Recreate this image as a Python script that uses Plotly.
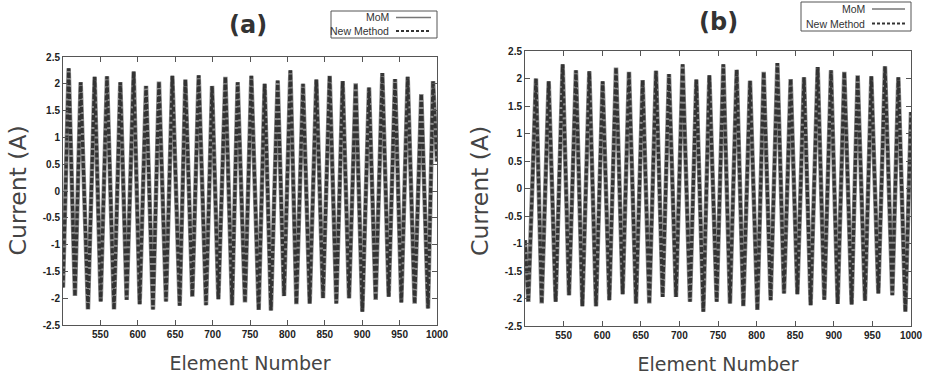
import plotly.graph_objects as go

# ---------------- data ----------------
# Panel (a): element numbers of successive extrema and current values (MoM)
a_element = [500, 507.6, 516.0, 523.6, 533.4, 542.3, 550.4, 558.8, 568.2, 576.6, 585.1,
             594.5, 602.5, 611.0, 620.3, 628.3, 637.7, 646.2, 656.0, 663.6, 672.9,
             681.4, 691.2, 699.3, 707.7, 717.1, 726.0, 733.5, 743.3, 751.8, 761.6,
             769.6, 778.0, 787.0, 795.5, 804.0, 812.0, 820.9, 829.8, 838.7, 847.6,
             856.5, 865.4, 873.9, 882.4, 891.3, 900.2, 909.1, 918.0, 926.9, 935.4,
             943.9, 952.3, 960.8, 970.1, 979.0, 988.0, 994.7, 1000]
a_mom = [-1.80, 2.29, -1.96, 2.03, -2.21, 2.13, -2.06, 2.14, -2.21, 2.03, -2.03,
         2.23, -2.11, 1.96, -2.21, 2.04, -2.06, 2.15, -2.14, 2.08, -1.97,
         2.16, -2.13, 1.96, -2.02, 2.13, -2.13, 2.03, -2.08, 2.15, -2.22,
         2.00, -2.23, 2.06, -1.96, 2.25, -2.11, 2.00, -2.10, 2.08, -2.00,
         2.15, -2.10, 2.05, -2.00, 2.01, -2.25, 1.93, -2.03, 2.20, -1.97,
         2.09, -2.08, 2.13, -2.10, 1.81, -2.19, 2.05, 0.55]
a_new = list(a_mom)

# Panel (b)
b_element = [500, 504.3, 514.2, 521.6, 530.7, 539.7, 548.8, 557.0, 566.0, 574.3, 583.3,
             592.0, 600.6, 609.2, 617.9, 626.5, 634.7, 643.8, 652.4, 661.0, 669.7,
             678.3, 686.5, 695.6, 704.2, 713.7, 721.9, 731.0, 738.8, 748.3, 756.9,
             765.5, 774.2, 782.8, 791.5, 801.0, 809.2, 818.2, 826.9, 835.5, 844.1,
             852.8, 861.4, 870.0, 879.1, 887.7, 896.4, 905.0, 913.6, 923.1, 930.9,
             940.4, 948.6, 957.7, 966.3, 975.8, 983.6, 992.7, 1000]
b_mom = [-0.94, -2.06, 2.00, -2.09, 1.95, -2.06, 2.26, -1.94, 2.15, -2.14, 2.13,
         -2.14, 1.95, -2.03, 2.20, -1.92, 2.12, -2.09, 1.97, -2.09, 2.14,
         -1.97, 2.08, -1.97, 2.26, -2.06, 1.98, -2.24, 2.06, -2.06, 2.26,
         -2.09, 2.16, -2.14, 1.96, -2.21, 2.12, -2.03, 2.28, -1.91, 1.99,
         -1.92, 2.02, -2.12, 2.21, -2.02, 2.15, -2.10, 2.12, -2.11, 2.06,
         -2.04, 2.04, -1.91, 2.22, -1.94, 2.02, -2.24, 1.39]
b_new = list(b_mom)

series_names = ["MoM", "New Method"]
panel_titles = ["(a)", "(b)"]
x_title = "Element Number"
y_title = "Current (A)"
x_ticks = [550, 600, 650, 700, 750, 800, 850, 900, 950, 1000]
y_ticks = [-2.5, -2, -1.5, -1, -0.5, 0, 0.5, 1, 1.5, 2, 2.5]
y_labels = ["-2.5", "-2", "-1.5", "-1", "-0.5", "0", "0.5", "1", "1.5", "2", "2.5"]

W, H = 926, 382

fig = go.Figure()

mom_style = dict(color="#8a8a8a", width=4.5)
new_style = dict(color="#333333", width=3.2, dash="5px,2px")

fig.add_trace(go.Scatter(x=a_element, y=a_mom, mode="lines", name=series_names[0],
                         line=mom_style, xaxis="x", yaxis="y", showlegend=False))
fig.add_trace(go.Scatter(x=a_element, y=a_new, mode="lines", name=series_names[1],
                         line=new_style, xaxis="x", yaxis="y", showlegend=False))
fig.add_trace(go.Scatter(x=b_element, y=b_mom, mode="lines", name=series_names[0],
                         line=mom_style, xaxis="x2", yaxis="y2", showlegend=False))
fig.add_trace(go.Scatter(x=b_element, y=b_new, mode="lines", name=series_names[1],
                         line=new_style, xaxis="x2", yaxis="y2", showlegend=False))

def px_x(p):
    return p / W

def px_y(p):
    return 1 - p / H

tickfont = dict(family="Liberation Sans", size=10, color="#222222", weight="bold")

def xaxis(domain, anchor):
    return dict(domain=domain, anchor=anchor, range=[500, 1000], tickvals=x_ticks,
                ticktext=[str(v) for v in x_ticks], ticks="inside", ticklen=5,
                tickcolor="#555555", showline=True, linecolor="#555555", linewidth=1,
                mirror="ticks", showgrid=False, zeroline=False, tickfont=tickfont,
                automargin=False,
                title=dict(text=x_title,
                           font=dict(family="DejaVu Sans", size=19, color="#444444"),
                           standoff=17))

def yaxis(domain, anchor):
    return dict(domain=domain, anchor=anchor, range=[-2.5, 2.5], tickvals=y_ticks,
                ticktext=y_labels, ticks="inside", ticklen=5,
                tickcolor="#555555", showline=True, linecolor="#555555", linewidth=1,
                mirror="ticks", showgrid=False, zeroline=False, tickfont=tickfont,
                automargin=False)

# --- gnuplot-style key boxes (text right-justified, sample to the right) ---
shapes = []
annotations = []
legend_font = dict(family="Liberation Sans", size=10.5, color="#333333")
keys = [
    dict(l=331, r=437, t=11, b=38, tx=391, s0=396, s1=431, y1=17.5, y2=31),
    dict(l=801, r=911, t=2, b=31, tx=867, s0=872, s1=905, y1=9, y2=23.5),
]
for k in keys:
    shapes.append(dict(type="rect", xref="paper", yref="paper",
                       x0=px_x(k["l"]), x1=px_x(k["r"]), y0=px_y(k["b"]), y1=px_y(k["t"]),
                       line=dict(color="#555555", width=1), fillcolor="white", layer="above"))
    for name, yy, ln in [(series_names[0], k["y1"], dict(color="#777777", width=1.5)),
                         (series_names[1], k["y2"], dict(color="#333333", width=2.2, dash="3px,2px"))]:
        annotations.append(dict(text=name, x=px_x(k["tx"]), y=px_y(yy), xref="paper", yref="paper",
                                xanchor="right", yanchor="middle", showarrow=False,
                                font=legend_font))
        shapes.append(dict(type="line", xref="paper", yref="paper",
                           x0=px_x(k["s0"]), x1=px_x(k["s1"]), y0=px_y(yy), y1=px_y(yy),
                           line=ln, layer="above"))

# panel titles
for t, cx, cy in [(panel_titles[0], 248, 25), (panel_titles[1], 718, 22)]:
    annotations.append(dict(text="<b>%s</b>" % t, x=px_x(cx), y=px_y(cy), xref="paper", yref="paper",
                            xanchor="center", yanchor="middle", showarrow=False,
                            font=dict(family="DejaVu Sans", size=24, color="#333333")))

# vertical y-axis titles
for cx in [17.5, 480]:
    annotations.append(dict(text=y_title, x=px_x(cx), y=px_y(191), xref="paper", yref="paper",
                            xanchor="center", yanchor="middle", textangle=-90, showarrow=False,
                            font=dict(family="DejaVu Sans", size=23.5, color="#444444")))

fig.update_layout(
    template="none",
    width=W, height=H,
    margin=dict(l=0, r=0, t=0, b=0, pad=0),
    paper_bgcolor="white", plot_bgcolor="white",
    showlegend=False,
    xaxis=xaxis([px_x(63), px_x(437)], "y"),
    yaxis=yaxis([px_y(325), px_y(57)], "x"),
    xaxis2=xaxis([px_x(525), px_x(911)], "y2"),
    yaxis2=yaxis([px_y(326), px_y(51)], "x2"),
    shapes=shapes,
    annotations=annotations,
)

fig.write_html("out.html", config={"displayModeBar": False},
               post_script="document.body.style.margin='0px';document.body.style.padding='0px';")
